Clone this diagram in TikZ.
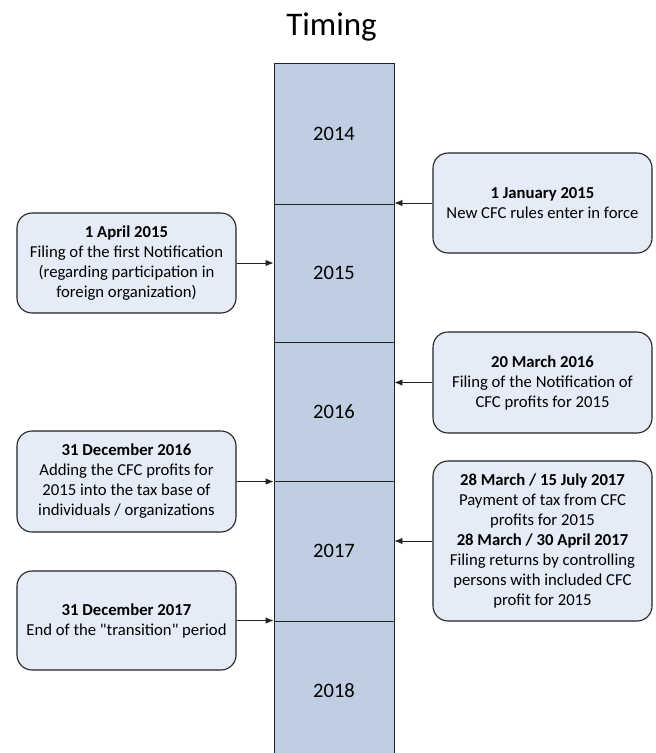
\documentclass[tikz,border=0pt]{standalone}
\usepackage{fontspec}
\setmainfont{Carlito}
\usetikzlibrary{arrows.meta}
\definecolor{colfill}{RGB}{191,206,226}
\definecolor{boxfill}{RGB}{229,236,247}
\definecolor{edgec}{RGB}{35,35,35}
\tikzset{
  yearseg/.style={draw=edgec, line width=0.9pt, fill=colfill, minimum width=120pt, inner sep=0pt,
    font=\fontsize{20.5}{24}\selectfont},
  evbox/.style={draw=edgec, line width=1.1pt, fill=boxfill, rounded corners=15pt,
    minimum width=219pt, minimum height=100pt, inner sep=0pt, align=center,
    font=\fontsize{16.7}{20}\selectfont},
  arr/.style={draw=edgec, line width=0.9pt, -{Latex[length=8pt,width=6.5pt]}},
  titlefont/.style={font=\fontsize{33}{38}\selectfont}
}
\begin{document}
\begin{tikzpicture}[x=1pt,y=-1pt]
\useasboundingbox (0,0) rectangle (656,753);
\fill[white] (0,0) rectangle (656,753);
\clip (0,0) rectangle (656,753);
\node[titlefont, anchor=base] (title) at (331.5,35) {Timing};
% column segments
\node[yearseg, minimum height=141pt] (y2014) at (334,133.5) {2014};
\node[yearseg, minimum height=138pt] (y2015) at (334,273) {2015};
\node[yearseg, minimum height=139pt] (y2016) at (334,411.5) {2016};
\node[yearseg, minimum height=140pt] (y2017) at (334,551) {2017};
\node[yearseg, minimum height=140pt] (y2018) at (334,691) {2018};
% right boxes
\node[evbox] (r1) at (542.5,203) {\textbf{1 January 2015}\\New CFC rules enter in force};
\node[evbox, minimum height=101pt] (r2) at (542.5,382.5) {\textbf{20 March 2016}\\Filing of the Notification of\\CFC profits for 2015};
\node[evbox, minimum height=160pt] (r3) at (542.5,541) {\textbf{28 March / 15 July 2017}\\Payment of tax from CFC\\profits for 2015\\\textbf{28 March / 30 April 2017}\\Filing returns by controlling\\persons with included CFC\\profit for 2015};
% left boxes
\node[evbox] (l1) at (126.5,263) {\textbf{1 April 2015}\\Filing of the first Notification\\(regarding participation in\\foreign organization)};
\node[evbox, minimum height=101pt] (l2) at (126.5,481.5) {\textbf{31 December 2016}\\Adding the CFC profits for\\2015 into the tax base of\\individuals / organizations};
\node[evbox, minimum height=99pt] (l3) at (126.5,620.5) {\textbf{31 December 2017}\\End of the \textquotedbl transition\textquotedbl\ period};
% arrows
\draw[arr] (r1.west) -- (r1.west -| y2014.east);
\draw[arr] (r2.west) -- (r2.west -| y2016.east);
\draw[arr] (r3.west) -- (r3.west -| y2017.east);
\draw[arr] (l1.east) -- (l1.east -| y2015.west);
\draw[arr] (l2.east) -- (l2.east -| y2017.west);
\draw[arr] (l3.east) -- (l3.east -| y2018.west);
\end{tikzpicture}
\end{document}
